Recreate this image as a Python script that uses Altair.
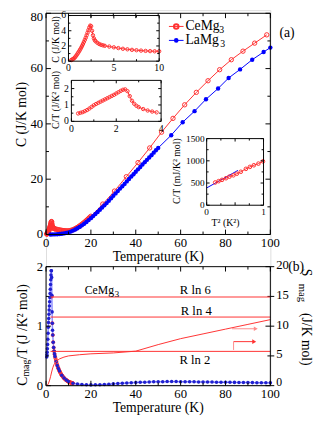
import altair as alt
import pandas as pd

FONT = "Liberation Serif"
RED = "#ff3030"
PINK = "#ff8c8c"
BLUE = "#0000ff"
LBLUE = "#8f8fff"
W, H = 230, 385

# ---------------- data ----------------
# CeMg3 specific heat C (J/K mol) vs T (K)
ce_T = [0.3, 0.4, 0.5, 0.6, 0.7, 0.8, 0.9, 1.0, 1.1, 1.2, 1.3, 1.4, 1.5, 1.6, 1.7, 1.8, 1.9, 2.0,
        2.1, 2.2, 2.3, 2.4, 2.5, 2.6, 2.7, 2.8, 2.9, 3.0, 3.2, 3.4, 3.6, 3.8,
        4.0, 4.5, 5.0, 5.5, 6.0, 6.5, 7.0, 7.5, 8.0, 8.5, 9.0, 9.5, 10.0, 10.5, 11.0, 11.5, 12.0,
        12.5, 13.0, 13.5, 14.0, 14.5, 15.0, 15.5, 16.0, 16.5, 17.0, 17.5, 18.0, 18.5, 19.0, 19.5, 20.0,
        25.3, 30.5, 35.8, 41.0, 46.2, 51.5, 56.6, 61.8, 67.0, 72.2, 77.4, 82.6, 87.8, 93.0, 98.4]
ce_C = [0.144, 0.208, 0.28, 0.372, 0.483, 0.624, 0.792, 0.98, 1.166, 1.356, 1.56, 1.778, 2.01, 2.256,
        2.516, 2.79, 3.078, 3.4, 3.738, 4.092, 4.439, 4.68, 4.6, 4.0, 3.4, 3.0, 2.75, 2.6, 2.4, 2.25,
        2.15, 2.08,
        2.02, 1.92, 1.82, 1.72, 1.63, 1.56, 1.49, 1.44, 1.39, 1.35, 1.32, 1.30, 1.30, 1.36, 1.45, 1.57,
        1.72, 1.90, 2.10, 2.32, 2.56, 2.82, 3.10, 3.39, 3.70, 4.02, 4.36, 4.71, 5.07, 5.44, 5.82, 6.21,
        6.60,
        11.0, 15.7, 20.9, 26.0, 31.3, 37.0, 42.0, 46.9, 51.4, 55.6, 59.6, 63.2, 66.3, 69.2, 72.2]

# LaMg3 specific heat
la_T = [2, 3, 4, 5, 6, 7, 8, 9, 10, 11, 12, 13, 14, 15, 16, 17, 18, 19, 20, 21, 22, 23, 24, 25, 26,
        27, 28, 29, 30, 31, 32, 33, 34, 35, 36, 37, 38, 39, 40, 41, 42, 43, 44, 45, 46, 47, 48, 49, 50,
        55.8, 60.9, 66.2, 71.3, 76.7, 81.4, 86.5, 91.9, 97.0, 100.0]
la_C = [0.01, 0.02, 0.05, 0.1, 0.18, 0.28, 0.4, 0.56, 0.75, 1.05, 1.4, 1.8, 2.25, 2.75, 3.3, 3.9, 4.5,
        5.2, 5.9, 6.65, 7.4, 8.15, 8.95, 9.75, 10.55, 11.35, 12.2, 13.1, 14.0, 14.85, 15.7, 16.6, 17.45,
        18.3, 19.2, 20.05, 20.95, 21.8, 22.7, 23.55, 24.4, 25.3, 26.15, 27.0, 27.85, 28.7, 29.6, 30.45,
        31.3,
        35.9, 40.6, 44.6, 48.9, 52.8, 56.6, 59.7, 63.2, 66.0, 67.6]

# inset: C/T (mJ/K^2 mol) vs T^2 (K^2)
t2_T2 = [0.15, 0.21, 0.27, 0.34, 0.40, 0.47, 0.53, 0.60, 0.69, 0.76, 0.83, 0.91, 0.99]
t2_CT = [512, 542, 571, 608, 643, 674, 709, 753, 819, 863, 900, 937, 988]
fit_T2 = [0.0, 0.55]
fit_CT = [389, 784]

# panel (b): Cmag/T (J/K^2 mol)
mb_T = [0.3, 0.4, 0.5, 0.6, 0.7, 0.8, 0.9, 1.0, 1.1, 1.2, 1.3, 1.4, 1.5, 1.6, 1.7, 1.8, 1.9, 2.0,
        2.1, 2.2, 2.3, 2.4, 2.5, 2.6, 2.7, 2.8, 2.9, 3.0,
        3.2, 3.4, 3.6, 3.8, 4.0, 4.5, 5.0, 5.5, 6.0, 7.0, 8.0, 9.0, 10.0,
        12, 14, 16, 18, 20, 22, 24, 26, 28, 30, 32, 34, 36, 38, 40, 42, 44, 46, 48, 50,
        52, 54, 56, 58, 60, 62, 64, 66, 68, 70, 72, 74, 76, 78, 80, 82, 84, 86, 88, 90,
        92, 94, 96, 98, 100]
mb_V = [0.48, 0.52, 0.56, 0.62, 0.69, 0.78, 0.88, 0.98, 1.06, 1.13, 1.2, 1.27, 1.34, 1.41, 1.48,
        1.55, 1.62, 1.7, 1.78, 1.86, 1.93, 1.93, 1.82, 1.52, 1.24, 1.05, 0.93, 0.85,
        0.73, 0.64, 0.58, 0.53, 0.49, 0.40, 0.34, 0.29, 0.245, 0.176, 0.128, 0.093, 0.068,
        0.04, 0.028, 0.02, 0.015, 0.013, 0.014, 0.016, 0.02, 0.025, 0.03, 0.035, 0.04, 0.044, 0.048,
        0.052, 0.056, 0.059, 0.062, 0.064, 0.066, 0.067, 0.068, 0.068, 0.068, 0.067, 0.066, 0.065,
        0.064, 0.063, 0.062, 0.061, 0.06, 0.059, 0.058, 0.057, 0.056, 0.055, 0.054, 0.053, 0.052,
        0.051, 0.05, 0.049, 0.048, 0.047]
mr_T = [2.6, 2.8, 3.0, 3.2, 3.4, 3.6, 3.8, 4.0, 4.2, 4.4, 4.6, 4.8, 5.0, 5.2, 5.4, 5.6, 5.8, 6.0,
        6.2, 6.4, 6.6, 6.8, 7.0, 7.2, 7.4, 7.6, 7.8, 8.0, 8.2, 8.4, 8.6, 8.8, 9.0, 9.2, 9.4, 9.6,
        9.8, 10.0, 10.2, 10.4, 10.6, 10.8, 11.0, 11.2, 11.4, 11.6, 11.8, 12.0]
mr_V = [1.5, 1.05, 0.85, 0.73, 0.64, 0.58, 0.53, 0.49, 0.46, 0.43, 0.40, 0.37, 0.345, 0.32, 0.30,
        0.28, 0.26, 0.245, 0.23, 0.215, 0.2, 0.188, 0.176, 0.165, 0.155, 0.145, 0.136, 0.128, 0.12,
        0.112, 0.105, 0.099, 0.093, 0.087, 0.082, 0.077, 0.072, 0.068, 0.064, 0.06, 0.057, 0.054,
        0.051, 0.048, 0.046, 0.044, 0.042, 0.04]

# panel (b): Smag (J/K mol)
s_T = [0, 0.5, 1, 1.5, 2, 2.5, 3, 3.5, 4, 5, 6, 8, 10, 15, 20, 30, 40, 50, 60, 70, 80, 90, 100]
s_V = [0, 0.05, 0.3, 0.8, 1.5, 2.3, 3.0, 3.5, 3.8, 4.2, 4.5, 4.8, 5.0, 5.2, 5.35, 5.5, 5.8, 6.9,
       7.9, 8.7, 9.5, 10.3, 11.1]
lev_name = ["R ln 2", "R ln 4", "R ln 6"]
lev_val = [5.76, 11.53, 14.90]

# tick values
xa_ticks = [0, 20, 40, 60, 80, 100]
ya_ticks = [0, 20, 40, 60]
ya_top = [80]
i1x_ticks, i1y_ticks = [0, 5, 10], [0, 2, 4, 6]
i2x_ticks, i2y_ticks = [0, 2, 4], [0, 1, 2]
i3x_ticks, i3y_ticks = [0, 1], [0, 500, 1000, 1500]
byl_ticks, byr_ticks = [0, 1, 2], [0, 5, 10, 15, 20]
byr_low, byr_rest = [0], [5, 10, 15, 20]

# ---------------- helpers ----------------
ONE = pd.DataFrame({"k": [0]})
TOPA = 3.2  # pixel of the top edge of panel (a)


def S(domain, rng):
    return alt.Scale(domain=domain, range=rng, nice=False, zero=False)


SX_A, SY_A = S([0, 100], [0, 230]), S([0, 80], [230, TOPA])
SX_I1, SY_I1 = S([0, 10], [23, 116]), S([0, 6], [52.3, 5.5])
SX_I2, SY_I2 = S([0, 4], [26, 118]), S([0, 2.5], [114, 72])
SX_I3, SY_I3 = S([0, 1], [164.7, 223]), S([0, 1500], [200, 131.7])
SX_B, SYL_B, SYR_B = S([0, 100], [0, 230]), S([0, 2], [385, 263]), S([0, 20], [385, 263])


def X(f, sc):
    return alt.X(f, scale=sc, axis=None)


def Y(f, sc):
    return alt.Y(f, scale=sc, axis=None)


def xt(vals, sc, ypix, ln):
    return alt.Chart(pd.DataFrame({"v": vals})).mark_rule(color="black", strokeWidth=1).encode(
        x=X("v:Q", sc), y=alt.value(ypix), y2=alt.value(ypix + ln))


def yt(vals, sc, xpix, ln):
    return alt.Chart(pd.DataFrame({"v": vals})).mark_rule(color="black", strokeWidth=1).encode(
        y=Y("v:Q", sc), x=alt.value(xpix), x2=alt.value(xpix + ln))


def xlab(vals, sc, ypix, size=13):
    return alt.Chart(pd.DataFrame({"v": vals})).mark_text(
        font=FONT, fontSize=size, align="center", baseline="middle", color="black").encode(
        x=X("v:Q", sc), y=alt.value(ypix), text=alt.Text("v:Q", format="d"))


def ylab(vals, sc, xpix, size=13, align="right", dy=0):
    return alt.Chart(pd.DataFrame({"v": vals})).mark_text(
        font=FONT, fontSize=size, align=align, baseline="middle", color="black", dy=dy).encode(
        y=Y("v:Q", sc), x=alt.value(xpix), text=alt.Text("v:Q", format="d"))


def box_ticks(sx, sy, xmaj, xmin, ymaj, ymin, x0, x1, y0, y1, L=5, l=3):
    # inward ticks on all four edges (y0 = bottom pixel, y1 = top pixel)
    return [xt(xmaj, sx, y0, -L), xt(xmin, sx, y0, -l), xt(xmaj, sx, y1, L), xt(xmin, sx, y1, l),
            yt(ymaj, sy, x0, L), yt(ymin, sy, x0, l), yt(ymaj, sy, x1, -L), yt(ymin, sy, x1, -l)]


def frame(x0, x1, y0, y1):
    return alt.Chart(ONE).mark_rect(fill="white", fillOpacity=0, stroke="black", strokeWidth=1).encode(
        x=alt.value(x0), x2=alt.value(x1), y=alt.value(y0), y2=alt.value(y1))


def txt(s, x, y, size=14, angle=0, align="center", baseline="middle", color="black"):
    kw = dict(text=s, font=FONT, fontSize=size, align=align, baseline=baseline, color=color)
    if angle:
        kw["angle"] = angle
    return alt.Chart(ONE).mark_text(**kw).encode(x=alt.value(x), y=alt.value(y))


ce = pd.DataFrame({"T": ce_T, "C": ce_C})
la = pd.DataFrame({"T": la_T, "C": la_C})

# ---------------- panel (a) main ----------------
panel_a = alt.layer(
    alt.Chart(ce).mark_line(color=RED, strokeWidth=1).encode(x=X("T:Q", SX_A), y=Y("C:Q", SY_A)),
    alt.Chart(ce).mark_point(shape="circle", filled=False, color=RED, size=20, strokeWidth=1,
                             opacity=1).encode(x=X("T:Q", SX_A), y=Y("C:Q", SY_A)),
    alt.Chart(la).mark_line(color=BLUE, strokeWidth=1).encode(x=X("T:Q", SX_A), y=Y("C:Q", SY_A)),
    alt.Chart(la).mark_point(shape="circle", filled=True, color=BLUE, size=20, opacity=1).encode(
        x=X("T:Q", SX_A), y=Y("C:Q", SY_A)),
    *box_ticks(SX_A, SY_A, xa_ticks, [10, 30, 50, 70, 90], ya_ticks + ya_top, [10, 30, 50, 70],
               0, 230, 230, TOPA),
    xlab(xa_ticks, SX_A, 239), ylab(ya_ticks, SY_A, -3), ylab(ya_top, SY_A, -3, dy=4),
)

# ---------------- inset 1: C vs T ----------------
ce1 = alt.Chart(ce).transform_filter("datum.T <= 10")
inset1 = alt.layer(
    ce1.mark_line(color=RED, strokeWidth=1).encode(x=X("T:Q", SX_I1), y=Y("C:Q", SY_I1)),
    ce1.mark_point(shape="circle", filled=False, color=RED, size=12, strokeWidth=1, opacity=1).encode(
        x=X("T:Q", SX_I1), y=Y("C:Q", SY_I1)),
    *box_ticks(SX_I1, SY_I1, i1x_ticks, [2.5, 7.5], i1y_ticks, [1, 3, 5], 23, 116, 52.3, 5.5, L=3, l=2),
    xlab(i1x_ticks, SX_I1, 59.5, 10), ylab(i1y_ticks, SY_I1, 20.5, 10),
)

# ---------------- inset 2: C/T vs T ----------------
ce2 = alt.Chart(ce).transform_filter("datum.T <= 3.8").transform_calculate(CT="datum.C / datum.T")
inset2 = alt.layer(
    ce2.mark_line(color=RED, strokeWidth=1).encode(x=X("T:Q", SX_I2), y=Y("CT:Q", SY_I2)),
    ce2.mark_point(shape="circle", filled=False, color=RED, size=12, strokeWidth=1, opacity=1).encode(
        x=X("T:Q", SX_I2), y=Y("CT:Q", SY_I2)),
    *box_ticks(SX_I2, SY_I2, i2x_ticks, [1, 3], i2y_ticks, [0.5, 1.5], 26, 118, 114, 72, L=3, l=2),
    xlab(i2x_ticks, SX_I2, 121.5, 10), ylab(i2y_ticks, SY_I2, 23.5, 10),
)

# ---------------- inset 3: C/T vs T^2 ----------------
t2 = pd.DataFrame({"T2": t2_T2, "CT": t2_CT})
fit = pd.DataFrame({"T2": fit_T2, "CT": fit_CT})
inset3 = alt.layer(
    alt.Chart(fit).mark_line(color=BLUE, strokeWidth=1).encode(x=X("T2:Q", SX_I3), y=Y("CT:Q", SY_I3)),
    alt.Chart(t2).mark_line(color=RED, strokeWidth=1).encode(x=X("T2:Q", SX_I3), y=Y("CT:Q", SY_I3)),
    alt.Chart(t2).mark_point(shape="circle", filled=False, color=RED, size=14, strokeWidth=1, opacity=1).encode(
        x=X("T2:Q", SX_I3), y=Y("CT:Q", SY_I3)),
    *box_ticks(SX_I3, SY_I3, [0, 0.5, 1], [0.25, 0.75], i3y_ticks, [250, 750, 1250],
               164.7, 223, 200, 131.7, L=3, l=2),
    xlab(i3x_ticks, SX_I3, 207, 9.5), ylab(i3y_ticks, SY_I3, 162.5, 9.5),
)

# ---------------- panel (b) left: Cmag/T ----------------
mb = pd.DataFrame({"T": mb_T, "V": mb_V})
mr = pd.DataFrame({"T": mr_T, "V": mr_V})
panel_bl = alt.layer(
    alt.Chart(mb).mark_line(color=LBLUE, strokeWidth=1.5).encode(x=X("T:Q", SX_B), y=Y("V:Q", SYL_B)),
    alt.Chart(mr).mark_point(shape="circle", filled=False, color=RED, size=10, strokeWidth=1, opacity=1).encode(
        x=X("T:Q", SX_B), y=Y("V:Q", SYL_B)),
    alt.Chart(mb).mark_point(shape="circle", filled=True, color="#2020d0", size=13, opacity=1).encode(
        x=X("T:Q", SX_B), y=Y("V:Q", SYL_B)),
    *box_ticks(SX_B, SYL_B, xa_ticks, [10, 30, 50, 70, 90], byl_ticks, [0.5, 1.5], 0, 230, 385, 263),
    xlab(xa_ticks, SX_B, 394), ylab(byl_ticks, SYL_B, -3),
)

# ---------------- panel (b) right: Smag ----------------
sm = pd.DataFrame({"T": s_T, "S": s_V})
lev = pd.DataFrame({"name": lev_name, "S": lev_val, "x0": [2, 2, 2], "x1": [100, 100, 100]})
arr_h = pd.DataFrame({"x0": [82.9, 83.6], "x1": [93.5, 92.8], "S": [9.56, 7.4], "c": ["a", "b"]})
arr_v = pd.DataFrame({"T": [83.6], "S0": [6.0], "S1": [7.4]})
ccol = alt.Color("c:N", scale=alt.Scale(domain=["a", "b"], range=[PINK, RED]), legend=None)
panel_br = alt.layer(
    alt.Chart(sm).mark_line(color=RED, strokeWidth=1).encode(x=X("T:Q", SX_B), y=Y("S:Q", SYR_B)),
    alt.Chart(lev).mark_rule(color=RED, strokeWidth=1).encode(
        x=X("x0:Q", SX_B), x2="x1:Q", y=Y("S:Q", SYR_B)),
    alt.Chart(arr_h).mark_rule(strokeWidth=1).encode(
        x=X("x0:Q", SX_B), x2="x1:Q", y=Y("S:Q", SYR_B), color=ccol),
    alt.Chart(arr_h).mark_point(shape="triangle-right", filled=True, size=22, opacity=1).encode(
        x=X("x1:Q", SX_B), y=Y("S:Q", SYR_B), color=ccol),
    alt.Chart(arr_v).mark_rule(color=PINK, strokeWidth=1).encode(
        x=X("T:Q", SX_B), y=Y("S0:Q", SYR_B), y2="S1:Q"),
    yt(byr_ticks, SYR_B, 230, 4),
    ylab(byr_rest, SYR_B, 236, 13, align="left", dy=-1.5),
    ylab(byr_low, SYR_B, 236, 12, align="left", dy=-4),
)

# ---------------- decorations / text ----------------
deco = [
    frame(0, 230, TOPA, 230), frame(23, 116, 5.5, 52.3), frame(26, 118, 72, 114),
    frame(164.7, 223, 131.7, 200), frame(0, 230, 263, 385),
    # legend
    alt.Chart(ONE).mark_rule(color=RED, strokeWidth=1).encode(x=alt.value(126), x2=alt.value(141), y=alt.value(16.7)),
    alt.Chart(ONE).mark_point(shape="circle", filled=False, color=RED, size=22, opacity=1).encode(
        x=alt.value(133.5), y=alt.value(16.7)),
    alt.Chart(ONE).mark_rule(color=BLUE, strokeWidth=1).encode(x=alt.value(126), x2=alt.value(141), y=alt.value(31)),
    alt.Chart(ONE).mark_point(shape="circle", filled=True, color=BLUE, size=22, opacity=1).encode(
        x=alt.value(133.5), y=alt.value(31)),
    txt("CeMg", 143, 16.7, 14, align="left"), txt("3", 177.5, 20.5, 10, align="left"),
    txt("LaMg", 143, 31, 14, align="left"), txt("3", 178.5, 34.8, 10, align="left"),
    txt("(a)", 247, 24, 14),
    txt("(b)", 256.5, 263.3, 14),
    # axis titles
    txt("C (J/K mol)", -25, 107, 14, angle=270),
    txt("Temperature (K)", 115, 253.5, 14),
    txt("Temperature (K)", 115, 408.5, 14),
    txt("C (J/K mol)", 10.3, 30, 10, angle=270),
    txt("C/T (J/K\u00b2 mol)", 10, 92, 10, angle=270),
    txt("C/T (mJ/K\u00b2 mol)", 134, 165, 10, angle=270),
    txt("T\u00b2 (K\u00b2)", 184, 218, 10),
    txt("C", -23.7, 380.5, 14, angle=270),
    txt("mag", -20.2, 367, 10, angle=270),
    txt("/T (J /K\u00b2 mol)", -23.7, 319.6, 14, angle=270),
    txt("S", 266.3, 269, 14, angle=90),
    txt("mag", 262.5, 290, 11, angle=90),
    txt("(J/K mol)", 266.3, 337.5, 14, angle=90),
    # panel (b) annotations
    txt("CeMg", 39.7, 287.5, 12, align="left"), txt("3", 70.5, 291, 9, align="left"),
    txt(lev_name[2], 153, 287, 13), txt(lev_name[1], 154, 309, 13), txt(lev_name[0], 152.6, 358.3, 13),
]

chart = alt.layer(
    panel_bl, panel_br, panel_a, inset1, inset2, inset3, *deco
).resolve_scale(x="independent", y="independent").properties(
    width=W, height=H,
    autosize=alt.AutoSizeParams(type="none"),
    padding={"left": 39, "top": -3, "right": 55, "bottom": 30},
).configure_view(stroke=None).configure(font=FONT)

chart.save("out.html", embed_options={"renderer": "svg", "actions": False})
